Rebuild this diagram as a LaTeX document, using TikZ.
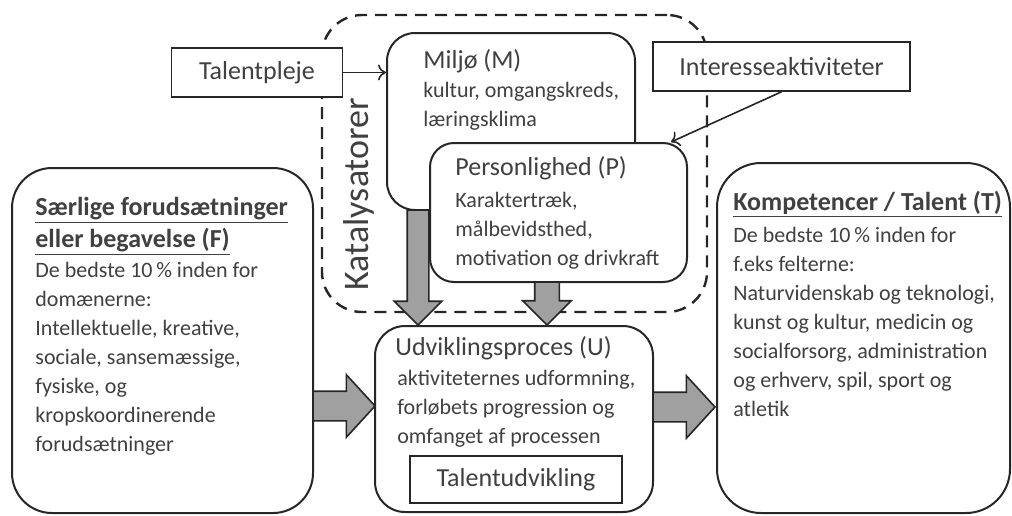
\documentclass[tikz,border=0pt]{standalone}
\usepackage{fontspec}
\setmainfont{Carlito}
\usetikzlibrary{positioning,fit,shapes.arrows,arrows.meta}
\definecolor{txtgrey}{HTML}{404040}
\definecolor{linegrey}{HTML}{262626}
\definecolor{arrowgrey}{HTML}{A0A0A0}
\begin{document}
\begin{tikzpicture}[x=0.5pt,y=-0.5pt,
	every node/.style={text=txtgrey},
	box/.style={draw=linegrey,line width=1pt,fill=white,rounded corners=#1,inner sep=0pt},
	plain/.style={draw=linegrey,line width=0.8pt,fill=white,inner sep=0pt,font=\fontsize{13}{16}\selectfont},
	katbox/.style={draw=linegrey,line width=1.2pt,dash pattern=on 6pt off 4pt,rounded corners=20pt,inner sep=0pt},
	head/.style={font=\fontsize{13}{16}\selectfont,inner sep=0pt,anchor=base west},
	body/.style={font=\fontsize{11}{14.5}\selectfont,inner sep=0pt,anchor=base west,align=left},
	ttl/.style={font=\bfseries\fontsize{13}{16}\selectfont,inner sep=0pt,anchor=base west,align=left},
	conn/.style={draw=linegrey,line width=0.8pt,-{To[length=4pt,width=8pt]}},
	garrow/.style={single arrow,draw=linegrey,line width=0.8pt,fill=arrowgrey,inner xsep=0pt,
		outer sep=0pt,minimum width=0pt,anchor=tail}]
\useasboundingbox (0,0) rectangle (1012,515);

% multi-line texts sit on the baseline of their last line
\node[katbox,fit={(322,15)(707,312)}] (kat) {};
\node[rotate=90,font=\fontsize{18}{20}\selectfont] (katlabel) at (359,194) {Katalysatorer};

\node[box=14pt,fit={(387,33)(635,210)}] (M) {};
\node[head] at (423,68) {Miljø (M)};
\node[body] at (423,126) {kultur, omgangskreds,\\læringsklima};

\node[box=12pt,fit={(430,143)(687,282)}] (P) {};
\node[head] at (455,175) {Personlighed (P)};
\node[body] at (455,265) {Karaktertræk,\\målbevidsthed,\\motivation og drivkraft};

\node[plain,minimum width=85.5pt,minimum height=24.5pt] (tp) at (257,72.5) {Talentpleje};
\node[plain,minimum width=128.5pt,minimum height=24.5pt] (ia) at (781.5,66.5) {Interesseaktiviteter};
\draw[conn] (tp.east) -- (tp.east -| M.west);
\draw[conn] (ia.south) -- ([xshift=-8.5pt]P.north east);

\node[box=20pt,fit={(12,168)(313,513)}] (F) {};
\node[ttl] at (35,247) {\underline{Særlige forudsætninger}\\\underline{eller begavelse (F)}};
\node[body] at (35,451) {De bedste 10\,\% inden for\\domænerne:\\Intellektuelle, kreative,\\sociale, sansemæssige,\\fysiske, og\\kropskoordinerende\\forudsætninger};

\node[box=15pt,fit={(375,326)(653,512)}] (U) {};
\node[head] at (395,355) {Udviklingsproces (U)};
\node[body] at (397,443) {aktiviteternes udformning,\\forløbets progression og\\omfanget af processen};
\node[plain,minimum width=106pt,minimum height=23.5pt] (tu) at (516,479.5) {Talentudvikling};

\node[box=22pt,fit={(717,163)(1010,513)}] (T) {};
\node[ttl] at (733,210) {\underline{Kompetencer / Talent (T)}};
\node[body] at (733,416) {De bedste 10\,\% inden for\\f.eks felterne:\\Naturvidenskab og teknologi,\\kunst og kultur, medicin og\\socialforsorg, administration\\og erhverv, spil, sport og\\atletik};

\node[garrow,inner ysep=5pt,single arrow head extend=6.5pt,single arrow tip angle=90,
	minimum height=57.5pt,rotate=-90] (mu) at (418,210) {};
\node[garrow,inner ysep=5.75pt,single arrow head extend=6pt,single arrow tip angle=90,
	minimum height=21.5pt,rotate=-90] (pu) at (547,282) {};
\node[garrow,inner ysep=7pt,single arrow head extend=8.25pt,single arrow tip angle=95,
	minimum height=31pt] (fu) at (313,406) {};
\node[garrow,inner ysep=7pt,single arrow head extend=8.25pt,single arrow tip angle=95,
	minimum height=31pt] (ut) at (653,407) {};
\end{tikzpicture}
\end{document}
